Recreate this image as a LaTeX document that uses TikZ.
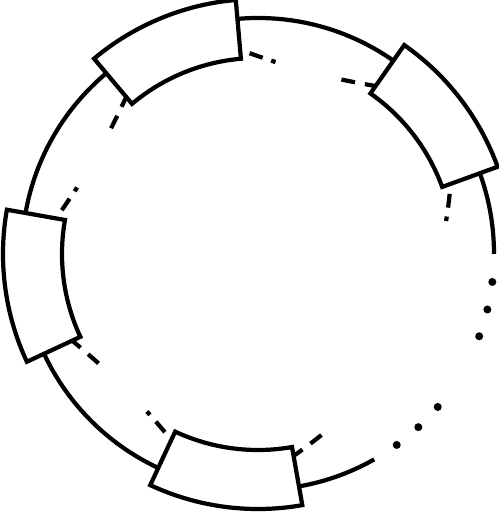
\documentclass[tikz,border=0pt]{standalone}
\usepackage{tikz}

\begin{document}
\begin{tikzpicture}[x=0.02cm, y=0.02cm, line width=2.4pt,
    blk/.style={draw, fill=white},
    head/.style={dash pattern=on 6.2pt off 5.7pt on 7.9pt off 600pt},
    tail/.style={dash pattern=on 0pt off 5.7pt on 7.9pt off 5.1pt on 2.6pt off 600pt}]
    \useasboundingbox (-258,-259) rectangle (241,254);
    \draw (0:236) arc[start angle=0, end angle=299.5, radius=236];
    \foreach \a in {-6.8, -13.6, -20.4, -40.4, -47.2, -54}
        \fill (\a:236) circle[radius=4];
    \foreach \c/\n in {37.5/B1, 112.5/B2, 187.5/B3, 262.5/B4} {
        \draw[blk] (\c-17.5:196) -- (\c-17.5:255)
            arc[start angle=\c-17.5, end angle=\c+17.5, radius=255]
            -- (\c+17.5:196)
            arc[start angle=\c+17.5, end angle=\c-17.5, radius=196] -- cycle;
        \coordinate (\n-ccw) at (\c+17.5:205);
        \coordinate (\n-cw) at (\c-17.5:205);
    }
    \draw[head] (B1-ccw) to[out=170, in=-20] (B2-cw);
    \draw[tail] (B2-cw) to[out=-20, in=170] (B1-ccw);
    \draw[head] (B2-ccw) to[out=245, in=55] (B3-cw);
    \draw[tail] (B3-cw) to[out=55, in=245] (B2-ccw);
    \draw[head] (B3-ccw) to[out=320, in=130] (B4-cw);
    \draw[tail] (B4-cw) to[out=130, in=320] (B3-ccw);
    \draw[head] (B4-ccw) to[out=35, in=-95] (B1-cw);
    \draw[tail] (B1-cw) to[out=-95, in=35] (B4-ccw);
\end{tikzpicture}
\end{document}
